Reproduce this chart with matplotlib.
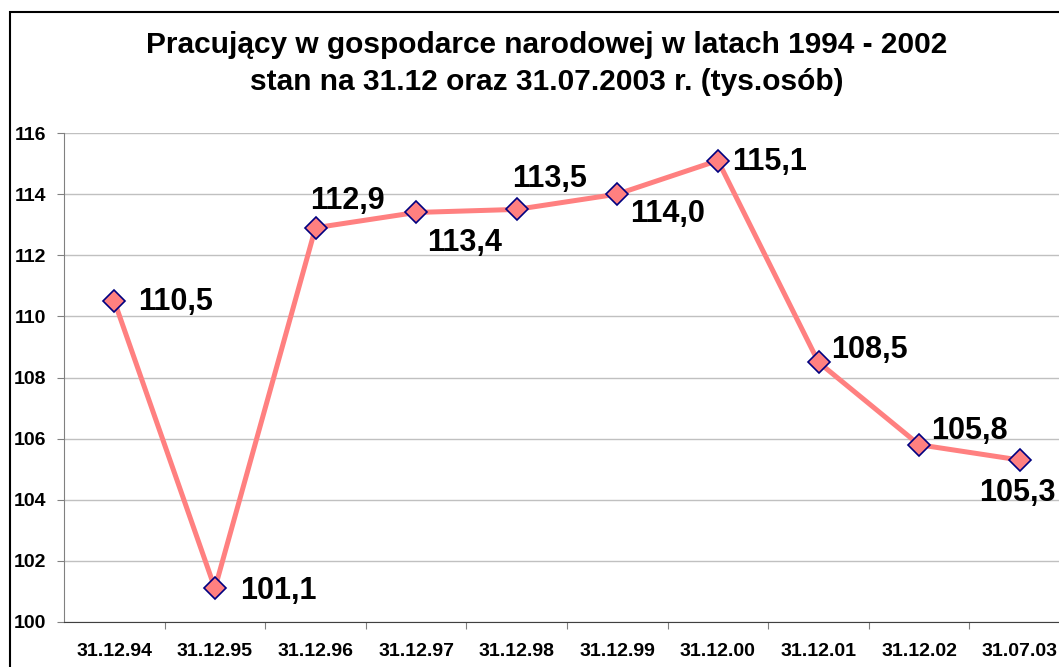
import matplotlib
matplotlib.use("Agg")
import matplotlib.pyplot as plt
from matplotlib.patches import Rectangle

plt.rcParams['font.family'] = ['Liberation Sans', 'DejaVu Sans']

dates = ['31.12.94', '31.12.95', '31.12.96', '31.12.97', '31.12.98',
         '31.12.99', '31.12.00', '31.12.01', '31.12.02', '31.07.03']
values = [110.5, 101.1, 112.9, 113.4, 113.5, 114.0, 115.1, 108.5, 105.8, 105.3]
# label offsets in points (dx, dy) relative to each marker
offsets = [(17, -1), (18, -2), (-4, 19), (8, -22), (-3, 22),
           (9, -14), (10, -1), (9, 9), (9, 10), (-29, -24)]

fig = plt.figure(figsize=(10.59, 6.67), dpi=100)
fig.patches.append(Rectangle((10 / 1059, -0.1), 1.2, (667 - 12) / 667 + 0.1,
                             transform=fig.transFigure, fill=False,
                             edgecolor='black', linewidth=1.5))

ax = fig.add_axes([64 / 1059, 45 / 667, 1006 / 1059, 489 / 667])
x = list(range(len(dates)))
ax.plot(x, values, color='#FF8080', linewidth=3.6, marker='D', markersize=11,
        markerfacecolor='#FF8080', markeredgecolor='#000080', markeredgewidth=1.2,
        zorder=3, clip_on=False)

for xi, v, (dx, dy) in zip(x, values, offsets):
    ax.annotate(f"{v:.1f}".replace('.', ','), (xi, v), xytext=(dx, dy),
                textcoords='offset points', ha='left', va='center',
                fontsize=22, fontweight='bold', annotation_clip=False)

ax.set_xlim(-0.5, len(dates) - 0.5)
ax.set_ylim(100, 116)
ax.set_yticks(range(100, 117, 2))
ax.set_yticklabels([str(t) for t in range(100, 117, 2)], fontsize=14, fontweight='bold')
ax.yaxis.grid(True, color='#C0C0C0', linewidth=1)
ax.set_axisbelow(True)

ax.set_xticks([i + 0.5 for i in range(len(dates) - 1)])
ax.set_xticklabels([])
ax.set_xticks(x, minor=True)
ax.set_xticklabels(dates, minor=True, fontsize=14, fontweight='bold')
ax.tick_params(axis='x', which='minor', length=0, pad=15)
ax.tick_params(axis='x', which='major', length=5, color='#808080')
ax.tick_params(axis='y', length=5, color='#808080', pad=8)

ax.spines['top'].set_visible(False)
ax.spines['right'].set_visible(False)
ax.spines['left'].set_color('#808080')
ax.spines['bottom'].set_color('#404040')

fig.text(0.516, 0.953, "Pracujący w gospodarce narodowej w latach 1994 - 2002\n"
         "stan na 31.12 oraz 31.07.2003 r. (tys.osób)",
         ha='center', va='top', fontsize=21.5, fontweight='bold', linespacing=1.38)

fig.savefig("out.png", dpi=100)
